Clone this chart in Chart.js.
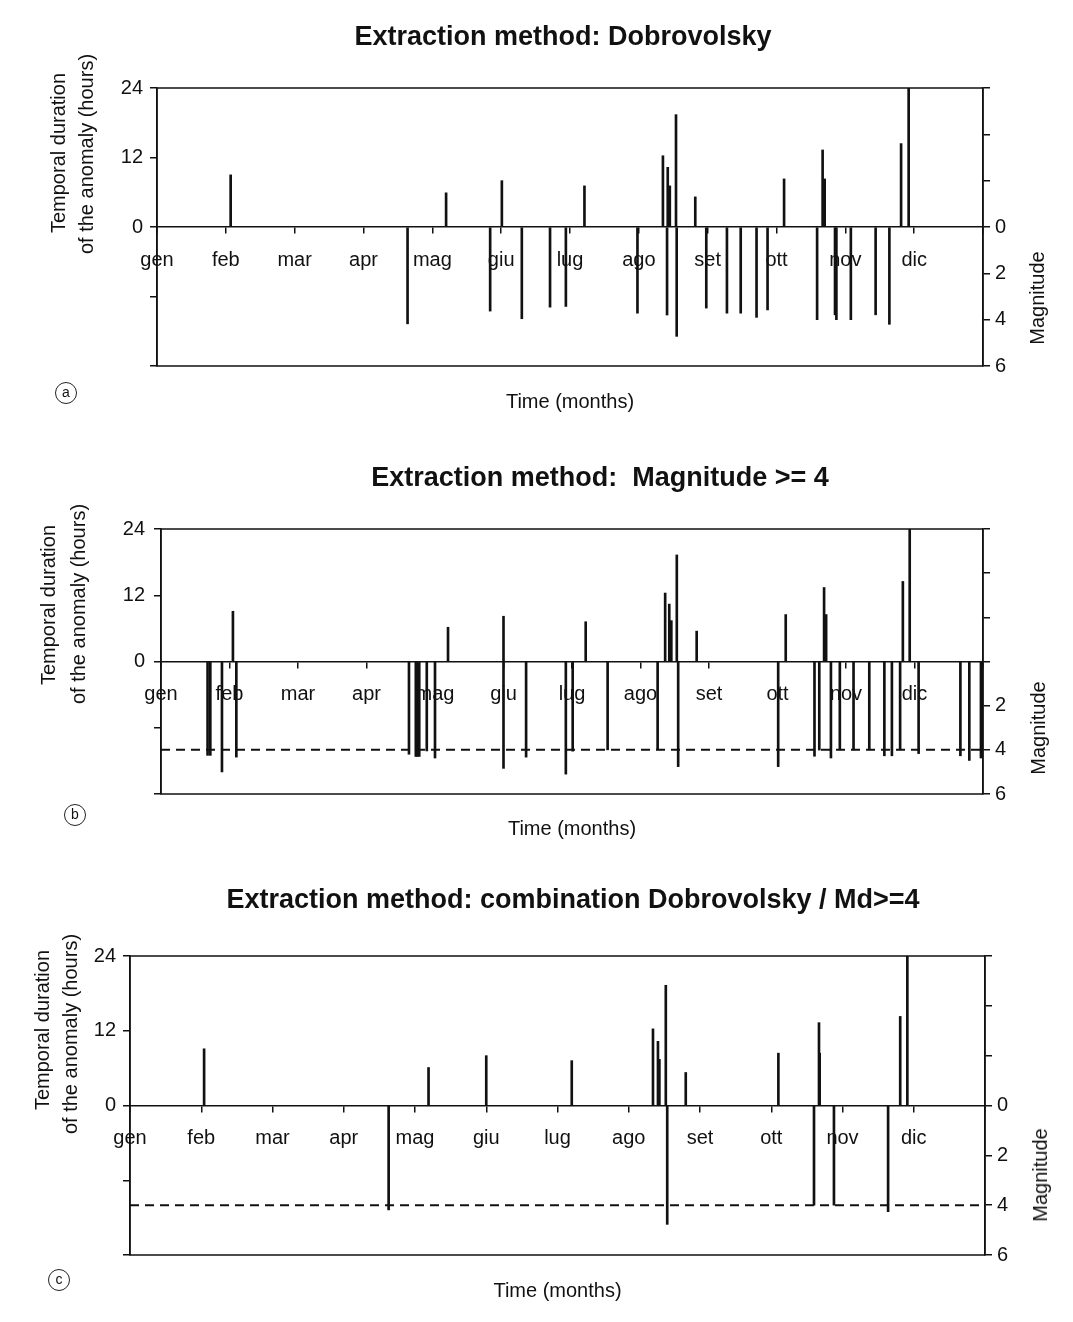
<!DOCTYPE html>
<html><head><meta charset="utf-8">
<script src="https://cdn.jsdelivr.net/npm/chart.js@4.4.1/dist/chart.umd.min.js"></script>
<style>
html,body{margin:0;padding:0;background:#fff;overflow:hidden;}
#page{position:relative;width:1073px;height:1322px;overflow:hidden;background:#fff;font-family:'Liberation Sans',Arial,sans-serif;color:#111;}
canvas{position:absolute;left:0;}
.vt{position:absolute;white-space:nowrap;font-size:20px;line-height:1;transform:translate(-50%,-50%) rotate(-90deg);}
.circ{position:absolute;width:20px;height:20px;border:1px solid #222;border-radius:50%;font-size:14px;text-align:center;line-height:19px;transform:translate(-50%,-50%);}
</style></head>
<body><div id="page">
<canvas id="ca" width="1126" height="420" style="top:0px"></canvas>
<canvas id="cb" width="1200" height="420" style="top:430px"></canvas>
<canvas id="cc" width="1146" height="467" style="top:855px"></canvas>

<div class="vt" style="left:58px;top:153px">Temporal duration</div>
<div class="vt" style="left:86px;top:154px">of the anomaly (hours)</div>
<div class="vt" style="left:1037px;top:298px">Magnitude</div>
<div class="circ" style="left:66px;top:393px">a</div>

<div class="vt" style="left:48px;top:605px">Temporal duration</div>
<div class="vt" style="left:78px;top:604px">of the anomaly (hours)</div>
<div class="vt" style="left:1038px;top:728px">Magnitude</div>
<div class="circ" style="left:75px;top:815px">b</div>

<div class="vt" style="left:42px;top:1030px">Temporal duration</div>
<div class="vt" style="left:70px;top:1034px">of the anomaly (hours)</div>
<div class="vt" style="left:1040px;top:1175px">Magnitude</div>
<div class="circ" style="left:59px;top:1280px">c</div>
</div>
<script>
// ---- categories / tick labels ----
const monthLabels = ['gen','feb','mar','apr','mag','giu','lug','ago','set','ott','nov','dic'];
const hourTickLabels = [0, 12, 24];
const magTickLabelsAC = [0, 2, 4, 6];
const magTickLabelsB = [2, 4, 6];
const magThreshold = 4;

// ---- panel a: Dobrovolsky (time in months from 1 Jan) ----
const aDurTime  = [1.07, 4.20, 5.01, 6.21, 7.35, 7.42, 7.45, 7.54, 7.82, 9.11, 9.67, 9.70, 10.81, 10.92];
const aDurHours = [9.0, 5.9, 8.0, 7.1, 12.3, 10.3, 7.1, 19.4, 5.2, 8.3, 13.3, 8.3, 14.4, 24.0];
const aMagTime  = [3.64, 4.84, 5.30, 5.71, 5.94, 6.98, 7.41, 7.55, 7.98, 8.28, 8.48, 8.71, 8.87, 9.59, 9.85, 9.87, 10.08, 10.44, 10.64];
const aMagValue = [4.18, 3.63, 3.96, 3.46, 3.43, 3.72, 3.80, 4.72, 3.50, 3.72, 3.72, 3.90, 3.58, 4.00, 3.79, 4.00, 4.00, 3.79, 4.20];

// ---- panel b: Magnitude >= 4 ----
const bDurTime  = [1.05, 4.19, 5.00, 6.20, 7.36, 7.42, 7.45, 7.53, 7.82, 9.12, 9.68, 9.71, 10.83, 10.93];
const bDurHours = [9.1, 6.2, 8.2, 7.2, 12.4, 10.4, 7.4, 19.3, 5.5, 8.5, 13.4, 8.5, 14.5, 24.0];
const bMagTime  = [0.68, 0.72, 0.89, 1.10, 3.62, 3.72, 3.74, 3.77, 3.88, 4.00, 5.00, 5.33, 5.91, 6.01, 6.52, 7.25, 7.55, 9.01, 9.54, 9.61, 9.78, 9.91, 10.11, 10.34, 10.56, 10.67, 10.79, 11.06, 11.67, 11.80, 11.97];
const bMagValue = [4.25, 4.25, 5.00, 4.33, 4.20, 4.30, 4.30, 4.30, 4.05, 4.37, 4.84, 4.33, 5.10, 4.06, 4.00, 4.00, 4.76, 4.76, 4.29, 4.01, 4.37, 4.00, 4.00, 4.00, 4.27, 4.27, 4.00, 4.17, 4.27, 4.48, 4.37];

// ---- panel c: combination Dobrovolsky / Md>=4 ----
const cDurTime  = [1.04, 4.19, 5.00, 6.20, 7.34, 7.41, 7.43, 7.52, 7.80, 9.10, 9.67, 9.68, 10.81, 10.91];
const cDurHours = [9.1, 6.1, 8.0, 7.2, 12.3, 10.3, 7.4, 19.3, 5.3, 8.4, 13.3, 8.4, 14.3, 24.0];
const cMagTime  = [3.63, 7.54, 9.60, 9.88, 10.64];
const cMagValue = [4.19, 4.77, 4.00, 4.00, 4.26];

Chart.defaults.font.family = "'Liberation Sans', Arial, sans-serif";
Chart.defaults.color = '#111';

const INK = '#111';
const framePlugin = {
  id: 'frame',
  afterDraw(chart) {
    const {ctx, chartArea: a} = chart;
    ctx.save();
    ctx.strokeStyle = INK; ctx.lineWidth = 1.5;
    ctx.strokeRect(a.left, a.top, a.right - a.left, a.bottom - a.top);
    ctx.restore();
  }
};

function pts(xs, ys) { return xs.map((x, i) => ({x: x, y: ys[i]})); }

function makeChart(id, p) {
  const datasets = [
    { label: 'Duration (hours)', data: pts(p.durT, p.durH), backgroundColor: INK, barThickness: 2,
      grouped: false, xAxisID: 'x', yAxisID: 'y' },
    { label: 'Magnitude', data: pts(p.magT, p.magV), backgroundColor: INK, barThickness: 2,
      grouped: false, xAxisID: 'x', yAxisID: 'y2' }
  ];
  if (p.threshold) {
    datasets.push({ type: 'line', label: 'Md = 4', data: [{x: 0, y: magThreshold}, {x: 12, y: magThreshold}],
      borderColor: INK, borderWidth: 2, borderDash: [9, 6], pointRadius: 0, xAxisID: 'x', yAxisID: 'y2' });
  }
  return new Chart(document.getElementById(id), {
    type: 'bar',
    data: { datasets },
    options: {
      responsive: false, animation: false,
      layout: { padding: 0 },
      plugins: {
        legend: { display: false }, tooltip: { enabled: false },
        title: { display: true, text: p.title, color: INK, font: { size: 27, weight: 'bold' },
                 padding: { top: p.tt, bottom: p.tb } }
      },
      scales: {
        x: { type: 'linear', min: 0, max: 12, position: { y: 0 }, offset: false,
             grid: { drawOnChartArea: false, offset: false, tickLength: 6, color: INK, lineWidth: 1.5 },
             border: { color: INK, width: 1.5 },
             ticks: { stepSize: 1, autoSkip: false, maxRotation: 0, padding: 15, font: { size: 20 }, color: INK,
                      callback: v => monthLabels[v] !== undefined ? monthLabels[v] : '' } },
        x2: { type: 'linear', position: 'bottom', min: 0, max: 12,
              grid: { display: false, drawTicks: false }, border: { display: false }, ticks: { display: false },
              title: { display: true, text: 'Time (months)', color: INK, font: { size: 20 },
                       padding: { top: p.xt, bottom: p.xb } } },
        y: { type: 'linear', position: 'left', min: -24, max: 24,
             afterFit: s => { s.width = p.wL; },
             grid: { drawOnChartArea: false, tickLength: 7, color: INK, lineWidth: 1.5 },
             border: { color: INK, width: 1.5 },
             ticks: { stepSize: 12, padding: p.lp, font: { size: 20 }, color: INK,
                      callback: v => hourTickLabels.includes(v) ? String(v) : '' } },
        y2: { type: 'linear', position: 'right', min: -6, max: 6, reverse: true,
              afterFit: s => { s.width = p.wR; },
              grid: { drawOnChartArea: false, tickLength: 7, color: INK, lineWidth: 1.5 },
              border: { color: INK, width: 1.5 },
              ticks: { stepSize: p.rStep, padding: 5, font: { size: 20 }, color: INK,
                       callback: v => p.rLabels.includes(v) ? String(v) : '' } }
      }
    },
    plugins: [framePlugin]
  });
}

makeChart('ca', { title: 'Extraction method: Dobrovolsky', durT: aDurTime, durH: aDurHours, magT: aMagTime, magV: aMagValue,
  threshold: false, wL: 157, wR: 143, tt: 21.8, tb: 33.8, xt: 24, xb: 6, lp: 7, rStep: 2, rLabels: magTickLabelsAC });
makeChart('cb', { title: 'Extraction method:  Magnitude >= 4', durT: bDurTime, durH: bDurHours, magT: bMagTime, magV: bMagValue,
  threshold: true, wL: 161, wR: 217, tt: 32.8, tb: 33.8, xt: 23, xb: 9, lp: 9, rStep: 1, rLabels: magTickLabelsB });
makeChart('cc', { title: 'Extraction method: combination Dobrovolsky / Md>=4', durT: cDurTime, durH: cDurHours, magT: cMagTime, magV: cMagValue,
  threshold: true, wL: 130, wR: 161, tt: 29.8, tb: 38.8, xt: 24, xb: 19, lp: 7, rStep: 2, rLabels: magTickLabelsAC });
</script>
</body></html>
